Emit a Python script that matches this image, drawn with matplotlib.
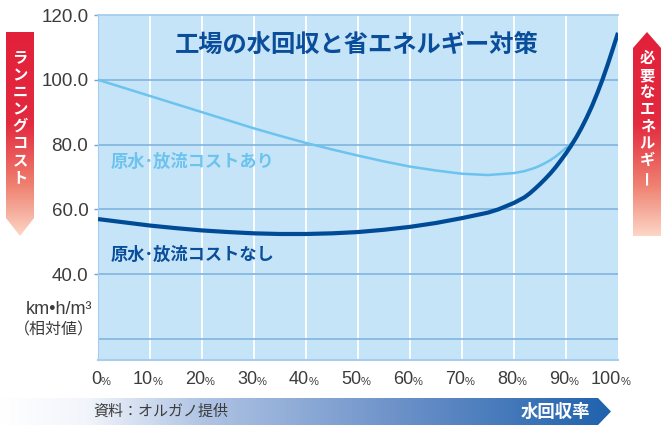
import numpy as np
import matplotlib
matplotlib.use('Agg')
import matplotlib.pyplot as plt
from matplotlib.patches import Polygon
from matplotlib.colors import LinearSegmentedColormap

# ---- data ----
recovery_with = [0, 5, 10, 15, 20, 25, 30, 35, 40, 45, 50, 55, 60, 65, 70, 75, 80, 82, 84, 85, 86, 87, 88, 89, 90, 91]
cost_with = [100, 97.5, 95, 92.5, 90, 87.5, 85, 82.7, 80.5, 78.5, 76.6, 74.8, 73.2, 72, 71, 70.6, 71.2, 71.8, 72.8, 73.5, 74.3, 75.2, 76.3, 77.6, 79.0, 80.3]
recovery_without = [0, 5, 10, 15, 20, 25, 30, 35, 40, 45, 50, 55, 60, 65, 70, 75, 77, 80, 82, 83, 84, 85, 86, 87, 88, 89,
                    90, 91, 92, 93, 94, 95, 96, 97, 98, 99, 100]
cost_without = [57, 56, 55, 54.2, 53.5, 53, 52.6, 52.4, 52.4, 52.6, 53, 53.7, 54.6, 55.8, 57.3, 59.0, 60.0, 62.0, 63.7, 64.9, 66.3, 67.8, 69.4,
                71.1, 73.0, 75.1, 77.3, 79.7, 82.3, 85.2, 88.4, 91.9, 95.8, 100.0, 104.6, 109.5, 114.5]
x_ticks = [0, 10, 20, 30, 40, 50, 60, 70, 80, 90, 100]
y_ticks = [40, 60, 80, 100, 120]
y_grid = [20, 40, 60, 80, 100]
title = "工場の水回収と省エネルギー対策"
label_with = "原水･放流コストあり"
label_without = "原水･放流コストなし"
left_arrow_text = "ランニングコスト"
right_arrow_text = "必要なエネルギー"

W, H = 661, 425
CJK = ['Noto Sans CJK JP', 'DejaVu Sans']
LAT = ['Liberation Sans', 'DejaVu Sans']

fig = plt.figure(figsize=(W / 100, H / 100), dpi=100)
fig.patch.set_facecolor('white')

L, R, T, B = 98, 618, 15, 360
ax = fig.add_axes([L / W, 1 - B / H, (R - L) / W, (B - T) / H])
ax.set_facecolor('#c6e4f8')
ax.set_xlim(0, 100)
ax.set_ylim(13.5, 120)

for xv in x_ticks[1:-1]:
    ax.axvline(xv, color='white', lw=1.3, zorder=1)
for yv in y_grid:
    ax.axhline(yv, color='#86b8e0', lw=1.3, zorder=2)

ax.spines['right'].set_visible(False)
ax.spines['top'].set_color('#a6cdec')
ax.spines['top'].set_linewidth(1.3)
ax.spines['bottom'].set_color('#a6cdec')
ax.spines['bottom'].set_linewidth(1.5)
ax.spines['left'].set_color('#a6cdec')
ax.spines['left'].set_linewidth(0.8)

ax.plot(recovery_with, cost_with, color='#6cc3ee', lw=1.8, zorder=3, solid_capstyle='round')
ax.plot(recovery_without, cost_without, color='#004b96', lw=3.0, zorder=4,
        solid_capstyle='butt', solid_joinstyle='round')

ax.set_yticks(y_ticks)
ax.set_yticklabels([f"{v:.1f}" for v in y_ticks], fontfamily=LAT, fontsize=13.5, color='#3c3c3c')
ax.tick_params(axis='y', length=3, width=1, color='#6aa6d8', pad=4)
ax.set_xticks([])

# x tick labels: number + small %
for xv in x_ticks:
    xp = L + (R - L) * xv / 100
    fig.text((xp + 3) / W, 1 - 380 / H, f"{xv}", ha='right', va='center',
             fontfamily=LAT, fontsize=13, color='#3c3c3c')
    fig.text((xp + 3) / W, 1 - 382 / H, "%", ha='left', va='center',
             fontfamily=LAT, fontsize=8, color='#3c3c3c')

# title & curve labels
ax.text(357 / W, 1 - 45 / H, title, transform=fig.transFigure, ha='center', va='center',
        fontfamily=CJK, fontsize=17.5, fontweight='bold', color='#0a4e9b', zorder=5)
fig.text(111 / W, 1 - 162 / H, label_with, ha='left', va='center',
         fontfamily=CJK, fontsize=12.4, fontweight='bold', color='#6cc3ee')
fig.text(111 / W, 1 - 255 / H, label_without, ha='left', va='center',
         fontfamily=CJK, fontsize=12.4, fontweight='bold', color='#0a4e9b')

# unit label
fig.text(92 / W, 1 - 309 / H, "km•h/m³", ha='right', va='center',
         fontfamily=LAT, fontsize=13, color='#3c3c3c')
fig.text(94 / W, 1 - 330 / H, "（相対値）", ha='right', va='center',
         fontfamily=CJK, fontsize=11.5, color='#3c3c3c')

# overlay axes for decorations (pixel coords)
ov = fig.add_axes([0, 0, 1, 1], facecolor='none')
ov.set_xlim(0, W)
ov.set_ylim(H, 0)
ov.axis('off')

red_cmap = LinearSegmentedColormap.from_list('r', [(0, '#e2203a'), (0.45, '#e32a3f'), (0.75, '#ef8070'), (1.0, '#fcd6c6')])
grad_v = np.linspace(0, 1, 256).reshape(-1, 1)

# left arrow (pointing down)
lx0, lx1, ly0, lsh, ltip = 6, 34, 32, 218, 236
poly_l = Polygon([[lx0, ly0], [lx1, ly0], [lx1, lsh], [(lx0 + lx1) / 2, ltip], [lx0, lsh]],
                 closed=True, transform=ov.transData, facecolor='none', edgecolor='none')
ov.add_patch(poly_l)
im = ov.imshow(grad_v, extent=[lx0, lx1, ltip, ly0], cmap=red_cmap, aspect='auto', zorder=2)
im.set_clip_path(poly_l)

# right arrow (pointing up)
rx0, rx1, rtip, rsh, ry1 = 633, 661, 32, 48, 236
poly_r = Polygon([[(rx0 + rx1) / 2, rtip], [rx1, rsh], [rx1, ry1], [rx0, ry1], [rx0, rsh]],
                 closed=True, transform=ov.transData, facecolor='none', edgecolor='none')
ov.add_patch(poly_r)
im2 = ov.imshow(grad_v, extent=[rx0, rx1, ry1, rtip], cmap=red_cmap, aspect='auto', zorder=2)
im2.set_clip_path(poly_r)

for i, ch in enumerate(left_arrow_text):
    ov.text(20, 58 + i * 17, ch, ha='center', va='center', fontfamily=CJK,
            fontsize=11, fontweight='bold', color='white', zorder=3)
for i, ch in enumerate(right_arrow_text):
    rot = 90 if ch == 'ー' else 0
    ov.text(647.5, 58 + i * 17, ch, ha='center', va='center', fontfamily=CJK,
            fontsize=11, fontweight='bold', color='white', rotation=rot, zorder=3)

# bottom bar arrow
by0, by1, bend, btip = 398, 425, 598, 611
blue_cmap = LinearSegmentedColormap.from_list('b', [(0, '#ffffff'), (0.14, '#f2f5fb'), (0.33, '#b0c4e4'),
                                                    (0.65, '#6d92c9'), (1.0, '#1f62ad')])
grad_h = np.linspace(0, 1, 256).reshape(1, -1)
poly_b = Polygon([[0, by0], [bend, by0], [btip, (by0 + by1) / 2], [bend, by1], [0, by1]],
                 closed=True, transform=ov.transData, facecolor='none', edgecolor='none')
ov.add_patch(poly_b)
im3 = ov.imshow(grad_h, extent=[0, btip, by1, by0], cmap=blue_cmap, aspect='auto', zorder=2)
im3.set_clip_path(poly_b)
ov.text(93, 411.5, "資料：オルガノ提供", ha='left', va='center', fontfamily=CJK,
        fontsize=10.8, color='#3c3c3c', zorder=3)
ov.text(590, 411.5, "水回収率", ha='right', va='center', fontfamily=CJK,
        fontsize=12.5, fontweight='bold', color='white', zorder=3)

fig.savefig('out.png', dpi=100, facecolor='white')
